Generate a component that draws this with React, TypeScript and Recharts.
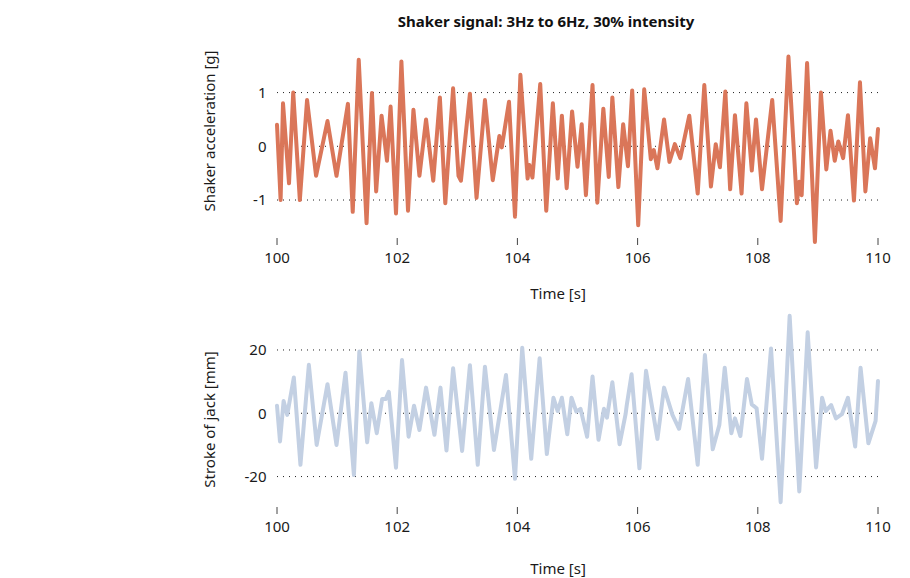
import React from 'react';
import { LineChart, Line, XAxis, YAxis, ReferenceLine } from 'recharts';

// ---- data ----
const accelTime = [
  100.0, 100.06, 100.1, 100.2, 100.27, 100.38, 100.5, 100.65, 100.84, 100.99,
  101.18, 101.26, 101.36, 101.49, 101.58, 101.65, 101.74, 101.83, 101.89, 101.98,
  102.07, 102.18, 102.27, 102.37, 102.48, 102.6, 102.71, 102.8, 102.93, 103.02,
  103.06, 103.21, 103.32, 103.46, 103.59, 103.7, 103.74, 103.86, 103.96, 104.05,
  104.17, 104.2, 104.25, 104.38, 104.48, 104.59, 104.67, 104.74, 104.82, 104.91,
  105.0, 105.07, 105.14, 105.25, 105.33, 105.43, 105.52, 105.58, 105.68, 105.76,
  105.84, 105.91, 106.01, 106.11, 106.22, 106.27, 106.33, 106.44, 106.53, 106.62,
  106.71, 106.86, 107.0, 107.11, 107.22, 107.3, 107.37, 107.46, 107.54, 107.62,
  107.73, 107.81, 107.9, 107.97, 108.07, 108.24, 108.38, 108.51, 108.65, 108.69,
  108.73, 108.82, 108.95, 109.05, 109.14, 109.21, 109.28, 109.34, 109.42, 109.5,
  109.6, 109.7, 109.79, 109.87, 109.95, 110.0,
];
const accelValues = [
  0.4, -1.0, 0.8, -0.69, 1.0, -1.0, 0.86, -0.55, 0.47, -0.55,
  0.79, -1.22, 1.61, -1.43, 0.99, -0.84, 0.57, -0.27, 0.74, -1.25,
  1.58, -1.2, 0.68, -0.55, 0.5, -0.64, 0.91, -1.06, 1.08, -0.55,
  -0.64, 0.98, -0.96, 0.86, -0.63, 0.19, -0.02, 0.83, -1.31, 1.33,
  -0.6, -0.35, -0.58, 1.16, -1.2, 0.8, -0.6, 0.57, -0.78, 0.65,
  -0.38, 0.41, -0.91, 1.14, -1.05, 0.7, -0.57, 0.91, -0.76, 0.41,
  -0.37, 1.04, -1.47, 1.06, -0.24, -0.07, -0.41, 0.5, -0.29, 0.04,
  -0.22, 0.57, -0.88, 1.14, -0.75, 0.04, -0.39, 1.02, -0.8, 0.58,
  -0.88, 0.8, -0.45, 0.5, -0.8, 0.86, -1.39, 1.67, -1.06, -0.66,
  -0.91, 1.55, -1.78, 1.0, -0.43, 0.29, -0.27, 0.09, -0.22, 0.58,
  -1.01, 1.19, -0.84, 0.15, -0.41, 0.32,
];

const strokeTime = [
  100.0, 100.05, 100.11, 100.17, 100.28, 100.39, 100.53, 100.66, 100.84, 100.99,
  101.14, 101.28, 101.37, 101.5, 101.57, 101.66, 101.75, 101.81, 101.86, 101.98,
  102.08, 102.19, 102.28, 102.37, 102.48, 102.62, 102.72, 102.82, 102.93, 103.08,
  103.21, 103.34, 103.46, 103.61, 103.81, 103.96, 104.08, 104.23, 104.37, 104.49,
  104.6, 104.67, 104.74, 104.83, 104.9, 104.98, 105.05, 105.16, 105.25, 105.35,
  105.44, 105.49, 105.58, 105.7, 105.8, 105.82, 105.9, 106.03, 106.14, 106.33,
  106.44, 106.58, 106.69, 106.84, 107.0, 107.12, 107.25, 107.36, 107.45, 107.56,
  107.62, 107.71, 107.82, 107.9, 107.98, 108.07, 108.22, 108.38, 108.53, 108.69,
  108.83, 108.97, 109.07, 109.13, 109.22, 109.3, 109.4, 109.5, 109.62, 109.71,
  109.84, 109.96, 110.0,
];
const strokeValues = [
  2.4, -8.9, 3.9, -0.5, 11.3, -16.3, 15.3, -10.0, 9.2, -10.0,
  12.8, -19.5, 19.5, -9.2, 3.2, -6.3, 4.5, 4.5, 6.8, -17.2,
  16.8, -7.4, 2.4, -5.3, 8.1, -6.8, 8.1, -11.8, 14.2, -11.9,
  15.2, -16.3, 14.7, -11.6, 12.1, -20.7, 20.7, -14.4, 17.4, -12.9,
  4.9, 0.7, 4.9, -6.6, 4.9, 0.5, 1.4, -7.4, 11.6, -8.4,
  1.4, -1.4, 9.8, -9.8, -0.3, 2.6, 12.3, -17.4, 13.4, -8.1,
  8.1, -0.5, -4.9, 10.8, -16.3, 18.4, -11.4, -3.7, 14.4, -6.3,
  -1.6, -7.2, 10.8, 2.8, 1.6, -14.4, 20.5, -28.1, 30.8, -24.7,
  25.6, -17.1, 4.9, 0.7, 2.6, -1.6, -0.3, 4.9, -10.5, 14.4,
  -9.5, -2.4, 10.2,
];

const timeTicks = [100, 102, 104, 106, 108, 110];
const accelTicks = [-1, 0, 1];
const strokeTicks = [-20, 0, 20];

const accelData = accelTime.map((t, i) => ({ t, v: accelValues[i] }));
const strokeData = strokeTime.map((t, i) => ({ t, v: strokeValues[i] }));

const FONT = '"Noto Sans", "Open Sans", sans-serif';
const TEXT = '#1a1a1a';

const XTick = (props: any) => {
  const { x, y, payload } = props;
  return (
    <g>
      <line x1={x} x2={x} y1={y - 5} y2={y + 2} stroke="#444" strokeWidth={1} />
      <text x={x} y={y + 20.3} textAnchor="middle" fontFamily={FONT} fontSize={15} fill={TEXT}>
        {payload.value}
      </text>
    </g>
  );
};

export default function App() {
  return (
    <div style={{ position: 'absolute', left: 0, top: 0, width: 910, height: 578, background: '#fff' }}>
      <div style={{ position: 'absolute', left: 0, top: 0 }}>
        <LineChart width={910} height={300} data={accelData}
          margin={{ top: 49.6, right: 32, bottom: 27, left: 217 }}>
          <XAxis dataKey="t" type="number" domain={[100, 110]} ticks={timeTicks}
            axisLine={false} tickLine={false} tickSize={0} tickMargin={0} height={30}
            tick={<XTick />} />
          <YAxis type="number" domain={[-1.8, 1.8]} ticks={accelTicks} width={60}
            axisLine={false} tickLine={false} tickSize={0} tickMargin={10.5}
            tick={{ fontFamily: FONT, fontSize: 15, fill: TEXT }} />
          {accelTicks.map((v) => (
            <ReferenceLine key={v} y={v} stroke="#222" strokeDasharray="1 5" />
          ))}
          <Line dataKey="v" type="linear" stroke="#DA7659" strokeWidth={4}
            strokeLinejoin="round" strokeLinecap="round" dot={false} isAnimationActive={false} />
        </LineChart>
      </div>
      <div style={{ position: 'absolute', left: 0, top: 280 }}>
        <LineChart width={910} height={298} data={strokeData}
          margin={{ top: 32, right: 32, bottom: 36, left: 217 }}>
          <XAxis dataKey="t" type="number" domain={[100, 110]} ticks={timeTicks}
            axisLine={false} tickLine={false} tickSize={0} tickMargin={0} height={30}
            tick={<XTick />} />
          <YAxis type="number" domain={[-31.2, 32]} ticks={strokeTicks} width={60}
            axisLine={false} tickLine={false} tickSize={0} tickMargin={10.5}
            tick={{ fontFamily: FONT, fontSize: 15, fill: TEXT }} />
          {strokeTicks.map((v) => (
            <ReferenceLine key={v} y={v} stroke="#222" strokeDasharray="1 5" />
          ))}
          <Line dataKey="v" type="linear" stroke="#C3D0E3" strokeWidth={4}
            strokeLinejoin="round" strokeLinecap="round" dot={false} isAnimationActive={false} />
        </LineChart>
      </div>
      <svg width={910} height={578} style={{ position: 'absolute', left: 0, top: 0, pointerEvents: 'none' }}>
        <text x={546} y={27} textAnchor="middle" fontFamily={FONT} fontWeight="bold" fontSize={15} fill="#111">
          Shaker signal: 3Hz to 6Hz, 30% intensity
        </text>
        <text x={558} y={299} textAnchor="middle" fontFamily={FONT} fontSize={15} fill={TEXT}>Time [s]</text>
        <text x={558} y={574} textAnchor="middle" fontFamily={FONT} fontSize={15} fill={TEXT}>Time [s]</text>
        <text transform="translate(215,131) rotate(-90)" textAnchor="middle" fontFamily={FONT} fontSize={15} fill={TEXT}>
          Shaker acceleration [g]
        </text>
        <text transform="translate(215,419.5) rotate(-90)" textAnchor="middle" fontFamily={FONT} fontSize={15} fill={TEXT}>
          Stroke of jack [mm]
        </text>
      </svg>
    </div>
  );
}
